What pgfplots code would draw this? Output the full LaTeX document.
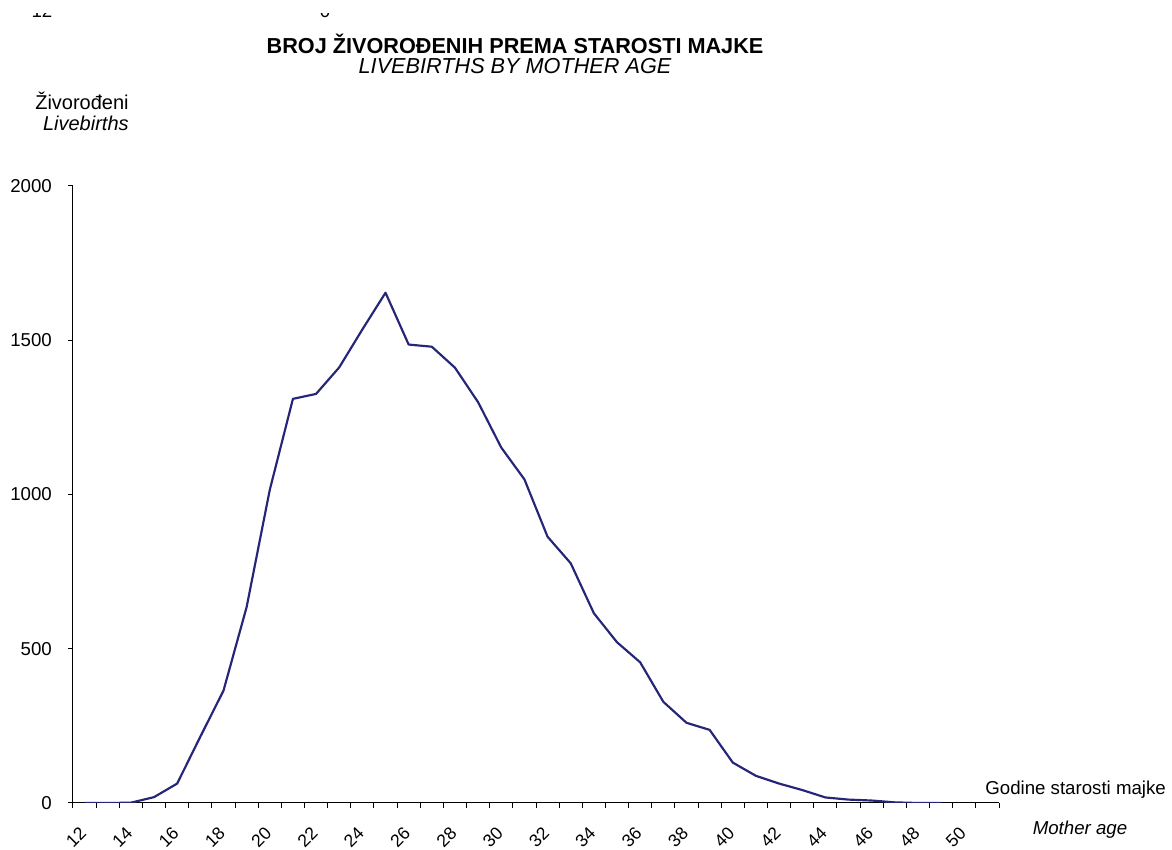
\documentclass[border=0pt]{standalone}
\usepackage{pgfplots}
\pgfplotsset{compat=1.18}
\usepackage{fontspec}
\setmainfont{Liberation Sans}
\definecolor{navy}{RGB}{38,38,120}
\begin{document}
\fontsize{11.2}{13.4}\selectfont
\begin{tikzpicture}
\useasboundingbox (-43.8pt,-28.2pt) rectangle (659.4pt,481.8pt);
\begin{axis}[
  at={(0pt,0pt)}, anchor=origin,
  scale only axis,
  width=555.6pt, height=370.2pt,
  xmin=11.5, xmax=51.5, ymin=0, ymax=2000,
  axis lines*=left,
  axis line style={black, line width=0.6pt},
  tick align=outside,
  major tick length=3pt,
  tick style={black, line width=0.6pt},
  xtick={11.5,12.5,...,51.5},
  xticklabels={},
  extra x ticks={12,14,...,50},
  extra x tick labels={12,14,16,18,20,22,24,26,28,30,32,34,36,38,40,42,44,46,48,50},
  extra x tick style={major tick length=0pt, tick style={draw=none},
     tick label style={xshift=-3.6pt, yshift=-12.2pt, rotate=45, anchor=north east, inner sep=1pt, font=\fontsize{10.6}{12}\selectfont}},
  ytick={0,500,1000,1500,2000},
  yticklabel style={/pgf/number format/1000 sep={}, /pgf/number format/assume math mode=true, xshift=-5.8pt, font=\fontsize{11.2}{13.4}\selectfont},
]
\addplot[navy, line width=1.3pt, line join=round] coordinates {
(12,0) (13,0) (14,1) (15,19) (16,63) (17,215) (18,364) (19,635) (20,1015)
(21,1310) (22,1326) (23,1412) (24,1535) (25,1654) (26,1486) (27,1479)
(28,1411) (29,1299) (30,1152) (31,1049) (32,863) (33,777) (34,615)
(35,521) (36,456) (37,328) (38,260) (39,237) (40,131) (41,88) (42,63)
(43,42) (44,18) (45,11) (46,8) (47,2) (48,0) (49,0)
};
\end{axis}
\node[font=\fontsize{13}{15}\selectfont\bfseries] at (265.2pt,455.4pt) {BROJ ŽIVOROĐENIH PREMA STAROSTI MAJKE};
\node[font=\fontsize{13}{15}\selectfont\itshape] at (265.2pt,442.2pt) {LIVEBIRTHS BY MOTHER AGE};
\node[anchor=east, inner sep=0pt, font=\fontsize{12}{14}\selectfont] at (33.6pt,421.2pt) {Živorođeni};
\node[anchor=east, inner sep=0pt, font=\fontsize{12}{14}\selectfont\itshape] at (33.6pt,408pt) {Livebirths};
\node[anchor=west, inner sep=0pt] at (547.2pt,7.8pt) {Godine starosti majke};
\node[inner sep=0pt, font=\itshape] at (604.2pt,-16.2pt) {Mother age};
\node[anchor=base, inner sep=0pt] at (-18.6pt,471pt) {12};
\node[anchor=base, inner sep=0pt] at (151.2pt,471pt) {0};
\fill[white] (-44pt,474pt) rectangle (660pt,483pt);
\end{tikzpicture}
\end{document}
